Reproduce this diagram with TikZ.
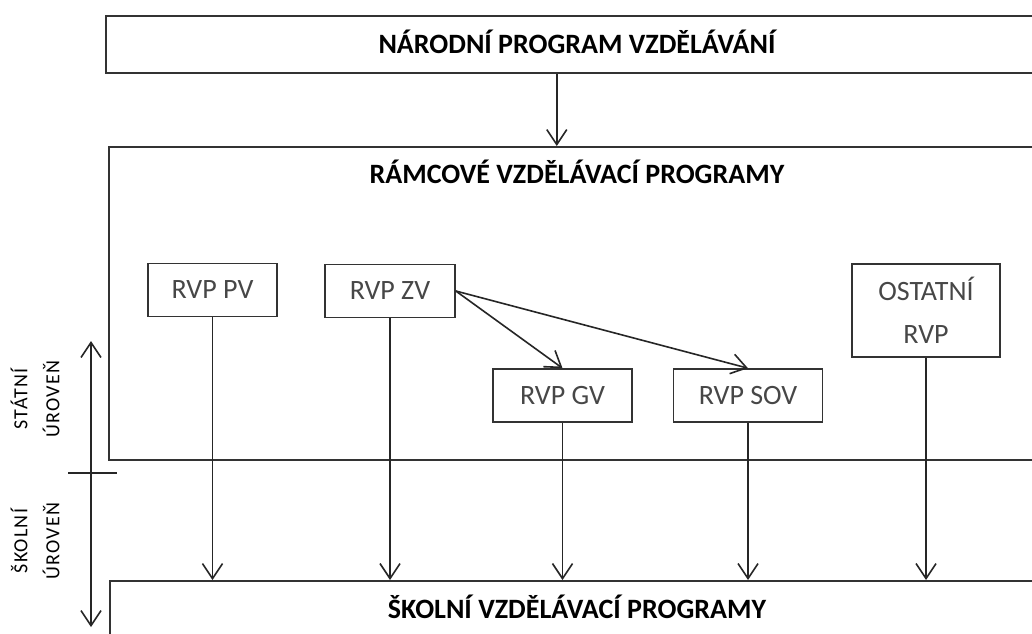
\documentclass[tikz,border=0pt]{standalone}
\usepackage{fontspec}
\setmainfont{Carlito}
\usetikzlibrary{arrows.meta}
\begin{document}
\begin{tikzpicture}[x=1pt,y=-1pt,
  bigbox/.style={draw=black!80, line width=1.6pt, rectangle, inner sep=0pt, anchor=north west},
  title/.style={font=\bfseries\fontsize{28}{34}\selectfont, text=black, anchor=base, inner sep=0pt},
  sbox/.style={draw=black!80, line width=1.6pt, rectangle, inner sep=0pt, text=black!72,
    font=\fontsize{28}{43}\selectfont, align=center, minimum height=53pt},
  arr/.style={draw=black!85, line width=1.6pt, -{Straight Barb[length=15pt,width=20pt,line width=1.6pt]}},
  darr/.style={draw=black!85, line width=1.6pt, {Straight Barb[length=15pt,width=20pt,line width=1.6pt]}-{Straight Barb[length=15pt,width=20pt,line width=1.6pt]}},
  side/.style={rotate=90, align=center, font=\fontsize{20}{27}\selectfont\addfontfeatures{LetterSpace=6}, text=black, inner sep=0pt}
]
\useasboundingbox (0,0) rectangle (1032,633);
\fill[white] (0,0) rectangle (1032,633);
\clip (0,0) rectangle (1032,633);

% big boxes
\node[bigbox, minimum width=942pt, minimum height=57pt] (npv) at (105,15) {};
\node[bigbox, minimum width=940pt, minimum height=313pt] (rvp) at (108,146) {};
\node[bigbox, minimum width=938pt, minimum height=90pt] (svp) at (109,580) {};

\node[title] (tnpv) at (577,53) {NÁRODNÍ PROGRAM VZDĚLÁVÁNÍ};
\node[title] (trvp) at (577,183) {RÁMCOVÉ VZDĚLÁVACÍ PROGRAMY};
\node[title] (tsvp) at (577,618) {ŠKOLNÍ VZDĚLÁVACÍ PROGRAMY};

% small boxes
\node[sbox, minimum width=129pt] (pv) at (212.5,290) {RVP PV};
\node[sbox, minimum width=130pt] (zv) at (390,291) {RVP ZV};
\node[sbox, minimum width=139pt] (gv) at (562.5,395.5) {RVP GV};
\node[sbox, minimum width=149pt] (sov) at (748,395.5) {RVP SOV};
\node[sbox, minimum width=148pt, minimum height=93pt] (ost) at (926,310.5) {OSTATNÍ\\RVP};

% connectors
\coordinate (topsrc) at ([xshift=-20pt]npv.south);
\draw[arr] (topsrc) -- (topsrc |- rvp.north);
\draw[arr] (zv.east) -- (gv.north);
\draw[arr] (zv.east) -- (sov.north);
\foreach \n in {pv,zv,gv,sov,ost}
  \draw[arr] (\n.south) -- (\n.south |- svp.north);

% left scale
\coordinate (lvtop) at (91,341);
\coordinate (lvbot) at (91,627);
\coordinate (tickL) at (68,473);
\coordinate (tickR) at (117,473);
\draw[darr] (lvbot) -- (lvtop);
\draw[draw=black!85, line width=1.6pt] (tickL) -- (tickR);

\node[side] (lstat) at (35,399) {STÁTNÍ\\[5pt]ÚROVEŇ};
\node[side] (lskol) at (35,541) {ŠKOLNÍ\\[5pt]ÚROVEŇ};
\end{tikzpicture}
\end{document}
